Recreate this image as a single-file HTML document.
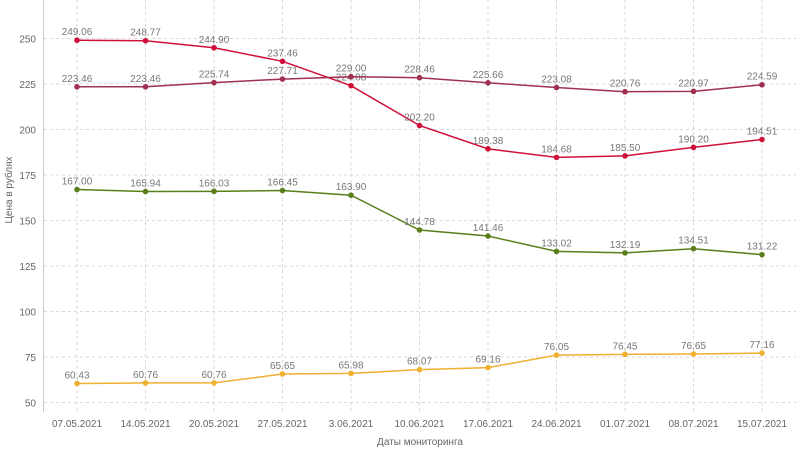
<!DOCTYPE html><html><head><meta charset="utf-8"><style>body{margin:0;background:#fff}svg{display:block;font-family:"Liberation Sans",sans-serif}</style></head><body>
<svg id="c" width="800" height="449" xmlns="http://www.w3.org/2000/svg"></svg>
<script>
const s=document.getElementById('c');let h='';
const X=i=>77+68.5*i, Y=v=>38.5+(250-v)*1.82;
const d=["07.05.2021","14.05.2021","20.05.2021","27.05.2021","3.06.2021","10.06.2021","17.06.2021","24.06.2021","01.07.2021","08.07.2021","15.07.2021"];
for(let v=50;v<=250;v+=25){h+=`<line x1="44" x2="796" y1="${Y(v)}" y2="${Y(v)}" stroke="#d8d8d8" stroke-dasharray="3,3"/><text x="36" y="${Y(v)+4}" text-anchor="end" font-size="10" fill="#666">${v}</text>`;}
d.forEach((t,i)=>{h+=`<line x1="${X(i)}" x2="${X(i)}" y1="0" y2="412" stroke="#d8d8d8" stroke-dasharray="3,3"/><text x="${X(i)}" y="427" text-anchor="middle" font-size="10" fill="#666">${t}</text>`;});
h+=`<line x1="43.5" x2="43.5" y1="0" y2="412" stroke="#ccc"/>`;
h+=`<text x="420" y="445" text-anchor="middle" font-size="10" fill="#666">Даты мониторинга</text>`;
h+=`<text transform="translate(12,190) rotate(-90)" text-anchor="middle" font-size="10" fill="#666">Цена в рублях</text>`;
const S=[["#d0103a",[249.06,248.77,244.90,237.46,224.08,202.20,189.38,184.68,185.50,190.20,194.51]],
["#a0304f",[223.46,223.46,225.74,227.71,229.00,228.46,225.66,223.08,220.76,220.97,224.59]],
["#5a7f1a",[167.00,165.94,166.03,166.45,163.90,144.78,141.46,133.02,132.19,134.51,131.22]],
["#f0b030",[60.43,60.76,60.76,65.65,65.98,68.07,69.16,76.05,76.45,76.65,77.16]]];
S.forEach(([c,a])=>{h+=`<polyline fill="none" stroke="${c}" stroke-width="1.5" points="${a.map((v,i)=>X(i)+','+Y(v)).join(' ')}"/>`;
a.forEach((v,i)=>{h+=`<circle cx="${X(i)}" cy="${Y(v)}" r="2.8" fill="${c}"/><text x="${X(i)}" y="${Y(v)-5}" text-anchor="middle" font-size="10" fill="#777">${v.toFixed(2)}</text>`;});});
s.innerHTML=h;
</script></body></html>
